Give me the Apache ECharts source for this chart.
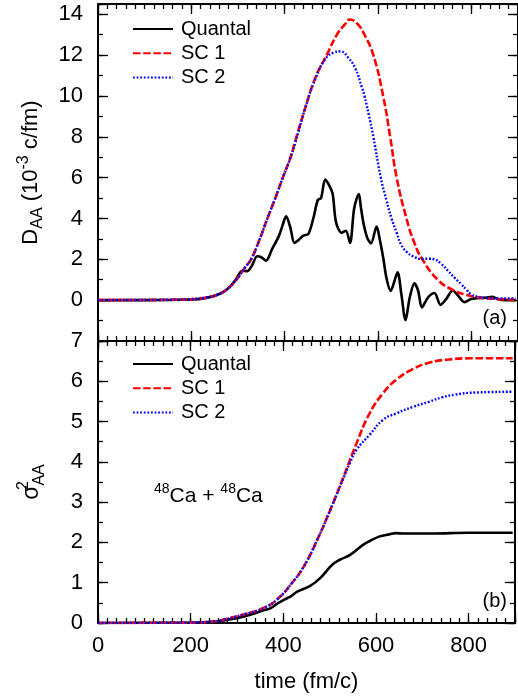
<!DOCTYPE html>
<html>
<head>
<meta charset="utf-8">
<script src="https://cdn.jsdelivr.net/npm/echarts@6/dist/echarts.min.js"></script>
<style>
  html, body { margin: 0; padding: 0; background: #fff; }
  #chart { width: 518px; height: 700px; }
</style>
</head>
<body>
<div id="chart"></div>
<script>
// ---- data ----
// panel (a): D_AA (10^-3 c/fm) vs time (fm/c)
const quantalT = [0, 100, 200, 230, 260, 280, 295, 309, 320, 330, 341, 350, 360, 373, 388, 396, 403, 412, 421, 430, 440, 451, 462, 471, 478, 487, 497, 503, 510, 522, 531, 540, 549, 559, 563, 569, 577, 585, 597, 604, 611, 618, 627, 632, 642, 650, 659, 668, 678, 686, 694, 707, 721, 734, 746, 760, 772, 785, 799, 813, 830, 845, 858, 870, 895];
const quantalD = [0, 0, 0.03, 0.1, 0.3, 0.6, 1.0, 1.44, 1.42, 1.7, 2.15, 2.1, 1.93, 2.5, 3.16, 3.7, 4.1, 3.57, 2.8, 2.95, 3.16, 3.25, 4.06, 4.9, 5.0, 5.9, 5.55, 5.2, 3.82, 3.3, 3.4, 2.8, 4.5, 5.2, 4.6, 3.75, 3.05, 2.78, 3.6, 2.95, 2.1, 1.1, 0.45, 0.7, 1.36, 0.3, -0.98, 0.13, 0.82, 0.46, -0.36, 0.13, 0.35, -0.23, 0.05, 0.47, 0.21, -0.1, 0.05, 0.1, 0.12, 0.17, 0.05, 0, 0];

const sc1T = [0, 150, 200, 230, 260, 280, 300, 315, 328, 345, 363, 380, 396, 412, 424, 444, 466, 490, 512, 529, 540, 555, 571, 590, 611, 626, 640, 661, 678, 695, 728, 760, 790, 820, 860, 895];
const sc1D = [0, 0.02, 0.05, 0.12, 0.3, 0.6, 1.1, 1.6, 2.0, 2.9, 4.0, 5.0, 6.0, 6.95, 7.9, 9.4, 10.9, 12.0, 13.0, 13.5, 13.74, 13.55, 13.0, 12.0, 10.0, 8.0, 6.0, 4.0, 2.8, 2.0, 1.0, 0.5, 0.25, 0.12, 0.05, 0.02];

const sc2T = [0, 150, 200, 230, 260, 280, 300, 315, 328, 345, 363, 380, 396, 412, 424, 444, 466, 487, 505, 519, 537, 551, 565, 571, 580, 590, 606, 618, 629, 640, 650, 662, 675, 693, 710, 721, 735, 750, 764, 778, 790, 799, 815, 830, 860, 895];
const sc2D = [0, 0.02, 0.05, 0.12, 0.3, 0.6, 1.1, 1.6, 2.0, 2.9, 4.0, 5.0, 6.0, 6.95, 7.8, 9.4, 10.85, 11.8, 12.12, 12.18, 11.85, 11.36, 10.46, 10.0, 9.1, 8.0, 6.0, 4.9, 4.0, 3.3, 2.7, 2.35, 2.15, 2.02, 2.03, 2.0, 1.78, 1.44, 1.1, 0.79, 0.5, 0.3, 0.16, 0.11, 0.08, 0.08];

// panel (b): sigma^2_AA vs time (fm/c)
const sigQT = [0, 200, 250, 274, 317, 359, 373, 388, 409, 416, 430, 458, 480, 505, 522, 544, 572, 586, 608, 629, 643, 660, 681, 720, 800, 895];
const sigQ = [0, 0.01, 0.03, 0.07, 0.17, 0.32, 0.37, 0.49, 0.62, 0.66, 0.78, 0.92, 1.12, 1.44, 1.57, 1.69, 1.94, 2.03, 2.15, 2.2, 2.23, 2.22, 2.22, 2.22, 2.24, 2.24];

const sig1T = [0, 200, 250, 274, 317, 359, 388, 419, 444, 473, 501, 530, 558, 586, 615, 643, 679, 714, 757, 806, 895];
const sig1 = [0, 0.01, 0.04, 0.09, 0.22, 0.38, 0.6, 1.0, 1.4, 2.06, 2.8, 3.63, 4.46, 5.2, 5.7, 6.03, 6.3, 6.46, 6.54, 6.57, 6.57];

const sig2T = [0, 200, 250, 274, 317, 359, 388, 419, 444, 473, 501, 530, 544, 558, 586, 615, 643, 681, 714, 742, 771, 813, 895];
const sig2 = [0, 0.01, 0.04, 0.09, 0.22, 0.38, 0.6, 1.0, 1.4, 2.06, 2.8, 3.6, 3.98, 4.3, 4.67, 5.04, 5.2, 5.37, 5.49, 5.6, 5.67, 5.72, 5.74];

const seriesNames = ['Quantal', 'SC 1', 'SC 2'];
const xTicks = [0, 200, 400, 600, 800];

const FONT = 'Liberation Sans, Arial, Helvetica, sans-serif';
const pairs = (t, v) => t.map((x, i) => [x, v[i]]);

// one axis of the frame; major axes carry the line and labels, minor ones only short ticks
function xAxisOf(grid, pos, interval, len, labels) {
  return {
    type: 'value', gridIndex: grid, position: pos, min: 0, max: 900, interval: interval,
    axisLine: { show: labels !== null, onZero: false, lineStyle: { color: '#000', width: 2 } },
    axisTick: { inside: true, length: len, lineStyle: { color: '#000', width: 1.3 } },
    axisLabel: labels ? {
      show: true, margin: 12, fontSize: 22, fontFamily: FONT, color: '#000',
      formatter: v => xTicks.includes(v) ? String(v) : ''
    } : { show: false },
    splitLine: { show: false }
  };
}
function yAxisOf(grid, pos, min, max, interval, len, labels) {
  return {
    type: 'value', gridIndex: grid, position: pos, min: min, max: max, interval: interval,
    axisLine: { show: labels !== null, onZero: false, lineStyle: { color: '#000', width: 2 } },
    axisTick: { inside: true, length: len, lineStyle: { color: '#000', width: 1.3 } },
    axisLabel: labels ? {
      show: true, margin: 15, fontSize: 22, fontFamily: FONT, color: '#000',
      formatter: labels
    } : { show: false },
    splitLine: { show: false }
  };
}

const labA = v => (v >= 0 && v <= 14 && v % 2 === 0) ? String(v) : '';
const labB = v => (v >= 0 && v <= 7 && Number.isInteger(v)) ? String(v) : '';
const none = false;

const xAxes = [
  // grid 0
  xAxisOf(0, 'bottom', 200, 10, none), xAxisOf(0, 'bottom', 20, 5, null),
  xAxisOf(0, 'top', 200, 10, none), xAxisOf(0, 'top', 20, 5, null),
  // grid 1
  xAxisOf(1, 'bottom', 200, 10, true), xAxisOf(1, 'bottom', 20, 5, null),
  xAxisOf(1, 'top', 200, 10, none), xAxisOf(1, 'top', 20, 5, null)
];
xAxes[4].name = 'time (fm/c)';
xAxes[4].nameLocation = 'middle';
xAxes[4].nameGap = 48;
xAxes[4].nameTextStyle = { fontSize: 22, fontFamily: FONT, color: '#000' };

const yAxes = [
  yAxisOf(0, 'left', -2, 14.5, 2, 10, labA), yAxisOf(0, 'left', -2, 14.5, 1, 5, null),
  yAxisOf(0, 'right', -2, 14.5, 2, 10, none), yAxisOf(0, 'right', -2, 14.5, 1, 5, null),
  yAxisOf(1, 'left', 0, 7, 1, 10, labB), yAxisOf(1, 'left', 0, 7, 0.5, 5, null),
  yAxisOf(1, 'right', 0, 7, 1, 10, none), yAxisOf(1, 'right', 0, 7, 0.5, 5, null)
];
yAxes[0].name = '{n|D}{sub|AA}{n| (10}{sup|-3}{n| c/fm)}';
yAxes[0].nameLocation = 'middle';
yAxes[0].nameGap = 52;
yAxes[0].nameTextStyle = {
  fontFamily: FONT, color: '#000', lineHeight: 30,
  rich: {
    n: { fontSize: 22, fontFamily: FONT, color: '#000', verticalAlign: 'middle', lineHeight: 30 },
    sub: { fontSize: 16, fontFamily: FONT, color: '#000', verticalAlign: 'bottom', lineHeight: 30 },
    sup: { fontSize: 16, fontFamily: FONT, color: '#000', verticalAlign: 'top', lineHeight: 30 }
  }
};
yAxes[4].name = '{n|σ}{sup|2}{sub|AA}';
yAxes[4].nameLocation = 'middle';
yAxes[4].nameGap = 50;
yAxes[4].nameTextStyle = {
  fontFamily: FONT, color: '#000', lineHeight: 32,
  rich: {
    n: { fontSize: 23, fontFamily: FONT, color: '#000', verticalAlign: 'middle', lineHeight: 32 },
    sup: { fontSize: 16, fontFamily: FONT, color: '#000', verticalAlign: 'top', lineHeight: 32, width: 0 },
    sub: { fontSize: 16, fontFamily: FONT, color: '#000', verticalAlign: 'bottom', lineHeight: 32 }
  }
};

const styles = [
  { color: '#000', width: 2.6, type: 'solid' },
  { color: '#ff0000', width: 2.6, type: [7.5, 2.7] },
  { color: '#0000ff', width: 2.4, type: [1.8, 1.8] }
];

function line(name, data, grid, st, smooth) {
  return {
    name: name, type: 'line', data: data,
    xAxisIndex: grid * 4, yAxisIndex: grid * 4,
    showSymbol: false, symbol: 'none', smooth: smooth,
    lineStyle: st, itemStyle: { color: st.color },
    animation: false, silent: true, clip: true
  };
}

const legendBase = {
  orient: 'vertical', left: 127, itemWidth: 40, itemHeight: 14, itemGap: 0.2,
  selectedMode: false, data: seriesNames,
  itemStyle: { opacity: 0, borderWidth: 0 },
  textStyle: { fontSize: 20, fontFamily: FONT, color: '#000', lineHeight: 24, padding: [0, 0, 0, 3] }
};

const chart = echarts.init(document.getElementById('chart'), null, { renderer: 'canvas' });
chart.setOption({
  animation: false,
  backgroundColor: '#fff',
  grid: [
    { left: 98, top: 4, width: 423, height: 337 },
    { left: 98, top: 341, width: 423, height: 282 }
  ],
  xAxis: xAxes,
  yAxis: yAxes,
  legend: [
    Object.assign({}, legendBase, { top: 12 }),
    Object.assign({}, legendBase, { top: 347 })
  ],
  series: [
    line('Quantal', pairs(quantalT, quantalD), 0, styles[0], 0.3),
    line('SC 1', pairs(sc1T, sc1D), 0, styles[1], 0.5),
    line('SC 2', pairs(sc2T, sc2D), 0, styles[2], 0.5),
    line('Quantal', pairs(sigQT, sigQ), 1, styles[0], 0.4),
    line('SC 1', pairs(sig1T, sig1), 1, styles[1], 0.5),
    line('SC 2', pairs(sig2T, sig2), 1, styles[2], 0.5)
  ],
  graphic: [
    { type: 'text', x: 507, y: 318, style: { text: '(a)', font: '20px ' + FONT, fill: '#000', align: 'right', verticalAlign: 'middle' } },
    { type: 'text', x: 507, y: 601, style: { text: '(b)', font: '20px ' + FONT, fill: '#000', align: 'right', verticalAlign: 'middle' } },
    { type: 'text', x: 154, y: 496, style: {
        text: '{s|48}{n|Ca + }{s|48}{n|Ca}', align: 'left', verticalAlign: 'middle',
        rich: {
          n: { fontSize: 21, fontFamily: FONT, fill: '#000', verticalAlign: 'middle', lineHeight: 28 },
          s: { fontSize: 14, fontFamily: FONT, fill: '#000', verticalAlign: 'top', lineHeight: 28 }
        }
    } }
  ]
});
</script>
</body>
</html>
